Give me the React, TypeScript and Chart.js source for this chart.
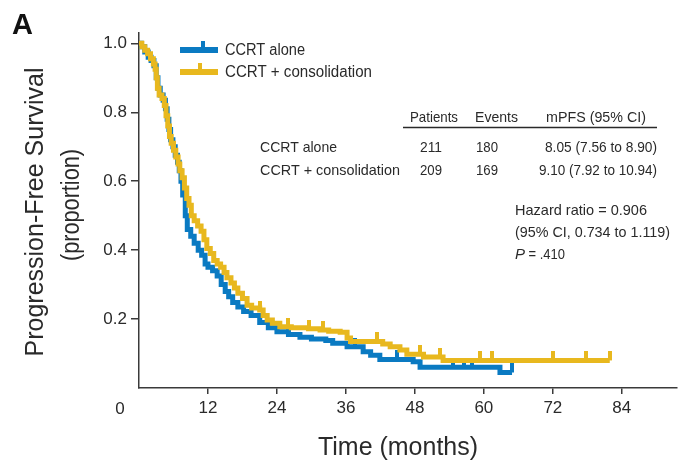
import React, { useEffect, useRef } from 'react';
import { Chart, registerables } from 'chart.js';

Chart.register(...registerables);

// ---- Data ----
const consolTime = [0, 0.5, 1.0, 1.5, 2.0, 2.5, 2.8, 3.0, 3.2, 3.5, 4.0, 4.4, 4.7, 5.0, 5.3, 5.6, 6.0, 6.4, 6.8, 7.1, 7.5, 7.9, 8.3, 8.7, 9.1, 9.6, 10.2, 10.8, 11.3, 11.8, 12.4, 13.0, 13.6, 14.2, 14.8, 15.3, 16.0, 16.6, 17.2, 18.0, 18.8, 19.6, 21.0, 21.6, 22.3, 23.2, 24.5, 26.5, 29.5, 31.5, 33.0, 35.0, 36.2, 36.8, 42.4, 43.7, 45.4, 46.6, 49.5, 52.9, 81.9];
const consolSurv = [1.0, 0.99, 0.98, 0.97, 0.955, 0.94, 0.925, 0.9, 0.87, 0.85, 0.84, 0.82, 0.79, 0.76, 0.73, 0.71, 0.69, 0.67, 0.65, 0.63, 0.61, 0.58, 0.55, 0.53, 0.5, 0.485, 0.47, 0.455, 0.43, 0.405, 0.39, 0.37, 0.36, 0.35, 0.335, 0.32, 0.305, 0.29, 0.275, 0.26, 0.24, 0.232, 0.226, 0.21, 0.197, 0.188, 0.178, 0.175, 0.172, 0.168, 0.165, 0.162, 0.145, 0.135, 0.128, 0.12, 0.11, 0.098, 0.09, 0.08, 0.08];

const aloneTime = [0, 0.4, 1.0, 1.6, 2.1, 2.6, 3.0, 3.3, 3.7, 4.2, 4.6, 4.9, 5.2, 5.5, 5.9, 6.3, 6.7, 7.0, 7.3, 7.6, 8.05, 8.4, 9.0, 9.6, 10.3, 10.9, 11.5, 12.0, 12.8, 13.6, 14.3, 15.0, 15.6, 16.3, 17.2, 18.2, 19.5, 21.0, 22.5, 24.0, 26.0, 28.0, 30.0, 32.5, 33.7, 36.2, 39.0, 40.3, 41.9, 47.7, 48.9, 62.8, 64.9];
const aloneSurv = [1.0, 0.99, 0.975, 0.96, 0.95, 0.935, 0.9, 0.87, 0.85, 0.835, 0.81, 0.78, 0.75, 0.72, 0.7, 0.675, 0.655, 0.63, 0.6, 0.56, 0.5, 0.46, 0.44, 0.42, 0.4, 0.385, 0.36, 0.35, 0.34, 0.325, 0.3, 0.28, 0.265, 0.248, 0.235, 0.222, 0.21, 0.19, 0.175, 0.163, 0.155, 0.147, 0.142, 0.138, 0.13, 0.12, 0.105, 0.095, 0.083, 0.076, 0.06, 0.045, 0.045];

const consolCensor = [21.0, 26.0, 29.5, 32.0, 41.4, 48.9, 52.3, 59.3, 61.4, 72.0, 77.7, 81.9];
const aloneCensor = [25.9, 37.6, 44.9, 54.6, 56.5, 58.0, 64.9];

const xTickValues = [0, 12, 24, 36, 48, 60, 72, 84];
const yTickValues = [0.2, 0.4, 0.6, 0.8, 1.0];

const seriesNames = ['CCRT alone', 'CCRT + consolidation'];
const tableHeader = ['Patients', 'Events', 'mPFS (95% CI)'];
const patients = ['211', '209'];
const events = ['180', '169'];
const mpfs = ['8.05 (7.56 to 8.90)', '9.10 (7.92 to 10.94)'];
const hazardLines = ['Hazard ratio = 0.906', '(95% CI, 0.734 to 1.119)'];
const pValue = ' = .410';

const BLUE = 'rgb(10,122,194)';
const YELLOW = 'rgb(232,184,30)';
const INK = '#2a2a2a';
const FONT = '"Liberation Sans", Arial, sans-serif';

function survAt(times: number[], surv: number[], t: number) {
  let v = surv[0];
  for (let i = 0; i < times.length; i++) if (times[i] <= t) v = surv[i];
  return v;
}

function makeTick(color: string) {
  const c = document.createElement('canvas');
  c.width = 4;
  c.height = 18;
  const g = c.getContext('2d')!;
  g.fillStyle = color;
  g.fillRect(0, 0, 4, 9);
  return c;
}

function txt(ctx: CanvasRenderingContext2D, s: string, x: number, y: number, size: number, maxW: number, align: CanvasTextAlign = 'left', style = '') {
  ctx.font = `${style} ${size}px ${FONT}`;
  ctx.textAlign = align;
  ctx.textBaseline = 'alphabetic';
  ctx.fillStyle = INK;
  ctx.fillText(s, x, y, maxW);
}

const textPlugin = {
  id: 'textPlugin',
  afterDraw(chart: any) {
    const ctx: CanvasRenderingContext2D = chart.ctx;
    ctx.save();
    // Panel letter
    ctx.font = `bold 29px ${FONT}`;
    ctx.fillStyle = '#111';
    ctx.textAlign = 'left';
    ctx.textBaseline = 'alphabetic';
    ctx.fillText('A', 12, 34);

    // y title
    ctx.save();
    ctx.translate(36, 212);
    ctx.rotate(-Math.PI / 2);
    ctx.font = `25px ${FONT}`;
    ctx.textAlign = 'center';
    ctx.textBaseline = 'middle';
    ctx.fillStyle = INK;
    ctx.fillText('Progression-Free Survival', 0, 0, 300);
    ctx.restore();
    ctx.save();
    ctx.translate(72, 205);
    ctx.rotate(-Math.PI / 2);
    ctx.font = `25px ${FONT}`;
    ctx.textAlign = 'center';
    ctx.textBaseline = 'middle';
    ctx.fillStyle = INK;
    ctx.fillText('(proportion)', 0, 0, 112);
    ctx.restore();

    // x title
    txt(ctx, 'Time (months)', 398, 455, 26, 160, 'center');

    // "0" label of x axis
    const xs = chart.scales.x;
    ctx.font = `17px ${FONT}`;
    ctx.textAlign = 'center';
    ctx.textBaseline = 'middle';
    ctx.fillStyle = INK;
    ctx.fillText(String(xTickValues[0]), xs.getPixelForValue(0) - 19, 409);

    // legend
    const cols = [BLUE, YELLOW];
    const ly = [50, 72];
    const tickX = [203, 200];
    for (let i = 0; i < 2; i++) {
      ctx.fillStyle = cols[i];
      ctx.fillRect(180, ly[i] - 3, 38, 6);
      ctx.fillRect(tickX[i] - 2, ly[i] - 9, 4, 9);
      txt(ctx, seriesNames[i], 225, ly[i] + 5, 16, i === 0 ? 80 : 147);
    }

    // table
    txt(ctx, tableHeader[0], 410, 122, 15, 48);
    txt(ctx, tableHeader[1], 475, 122, 15, 43);
    txt(ctx, tableHeader[2], 546, 122, 15, 100);
    ctx.strokeStyle = INK;
    ctx.lineWidth = 1.5;
    ctx.beginPath();
    ctx.moveTo(403, 127.5);
    ctx.lineTo(657, 127.5);
    ctx.stroke();
    const rowY = [152, 175];
    for (let i = 0; i < 2; i++) {
      txt(ctx, seriesNames[i], 260, rowY[i], 15, i === 0 ? 77 : 140);
      txt(ctx, patients[i], 431, rowY[i], 15, 22, 'center');
      txt(ctx, events[i], 487, rowY[i], 15, 22, 'center');
      txt(ctx, mpfs[i], 657, rowY[i], 15, i === 0 ? 112 : 118, 'right');
    }

    // hazard text
    txt(ctx, hazardLines[0], 515, 215, 15, 132);
    txt(ctx, hazardLines[1], 515, 237, 15, 155);
    txt(ctx, 'P', 515, 259, 15, 12, 'left', 'italic');
    txt(ctx, pValue, 525, 259, 15, 40);
    ctx.restore();
  },
};

export default function App() {
  const ref = useRef<HTMLCanvasElement | null>(null);
  useEffect(() => {
    if (!ref.current) return;
    const consolPts = consolTime.map((t, i) => ({ x: t, y: consolSurv[i] }));
    const alonePts = aloneTime.map((t, i) => ({ x: t, y: aloneSurv[i] }));
    const consolCens = consolCensor.map((t) => ({ x: t, y: survAt(consolTime, consolSurv, t) }));
    const aloneCens = aloneCensor.map((t) => ({ x: t, y: survAt(aloneTime, aloneSurv, t) }));
    const tickY = makeTick(YELLOW);
    const tickB = makeTick(BLUE);
    const axisColor = '#3a3a3a';
    const chart = new Chart(ref.current, {
      type: 'line',
      data: {
        datasets: [
          { label: 'consol censor', data: consolCens, showLine: false, pointStyle: tickY as any, pointRadius: 3, pointHoverRadius: 3 },
          { label: seriesNames[1], data: consolPts, borderColor: YELLOW, borderWidth: 5, stepped: true, pointRadius: 0, fill: false, borderCapStyle: 'butt' },
          { label: 'alone censor', data: aloneCens, showLine: false, pointStyle: tickB as any, pointRadius: 3, pointHoverRadius: 3 },
          { label: seriesNames[0], data: alonePts, borderColor: BLUE, borderWidth: 5, stepped: true, pointRadius: 0, fill: false, borderCapStyle: 'butt' },
        ] as any,
      },
      options: {
        responsive: false,
        animation: false,
        layout: { padding: { top: 33, right: 0, left: 0, bottom: 0 } },
        plugins: { legend: { display: false }, tooltip: { enabled: false } },
        scales: {
          x: {
            type: 'linear',
            min: 0,
            max: 93.6,
            afterFit: (s: any) => { s.height = 77; },
            afterBuildTicks: (s: any) => { s.ticks = xTickValues.map((v) => ({ value: v })); },
            ticks: {
              stepSize: 12,
              font: { size: 17, family: FONT },
              color: INK,
              padding: 4,
              callback: (v: any) => (v === 0 ? '' : String(v)),
            },
            grid: {
              drawOnChartArea: false,
              drawTicks: true,
              tickLength: 6,
              color: (c: any) => (c.tick && c.tick.value === 0 ? 'rgba(0,0,0,0)' : axisColor),
              tickColor: (c: any) => (c.tick && c.tick.value === 0 ? 'rgba(0,0,0,0)' : axisColor),
              lineWidth: 1.5,
            },
            border: { display: true, color: axisColor, width: 1.5 },
          },
          y: {
            type: 'linear',
            min: 0,
            max: 1.03,
            afterFit: (s: any) => { s.width = 139; },
            afterBuildTicks: (s: any) => { s.ticks = [0, ...yTickValues].map((v) => ({ value: v })); },
            ticks: {
              font: { size: 17, family: FONT },
              color: INK,
              padding: 4,
              callback: (v: any) => (v === 0 ? '' : Number(v).toFixed(1)),
            },
            grid: {
              drawOnChartArea: false,
              drawTicks: true,
              tickLength: 8,
              color: (c: any) => (c.tick && c.tick.value === 0 ? 'rgba(0,0,0,0)' : axisColor),
              tickColor: (c: any) => (c.tick && c.tick.value === 0 ? 'rgba(0,0,0,0)' : axisColor),
              lineWidth: 1.5,
            },
            border: { display: true, color: axisColor, width: 1.5 },
          },
        },
      } as any,
      plugins: [textPlugin],
    });
    return () => chart.destroy();
  }, []);
  return (
    <div style={{ position: 'absolute', left: 0, top: 0, width: 681, height: 465, background: '#fff' }}>
      <canvas ref={ref} width={681} height={465} style={{ display: 'block' }} />
    </div>
  );
}
